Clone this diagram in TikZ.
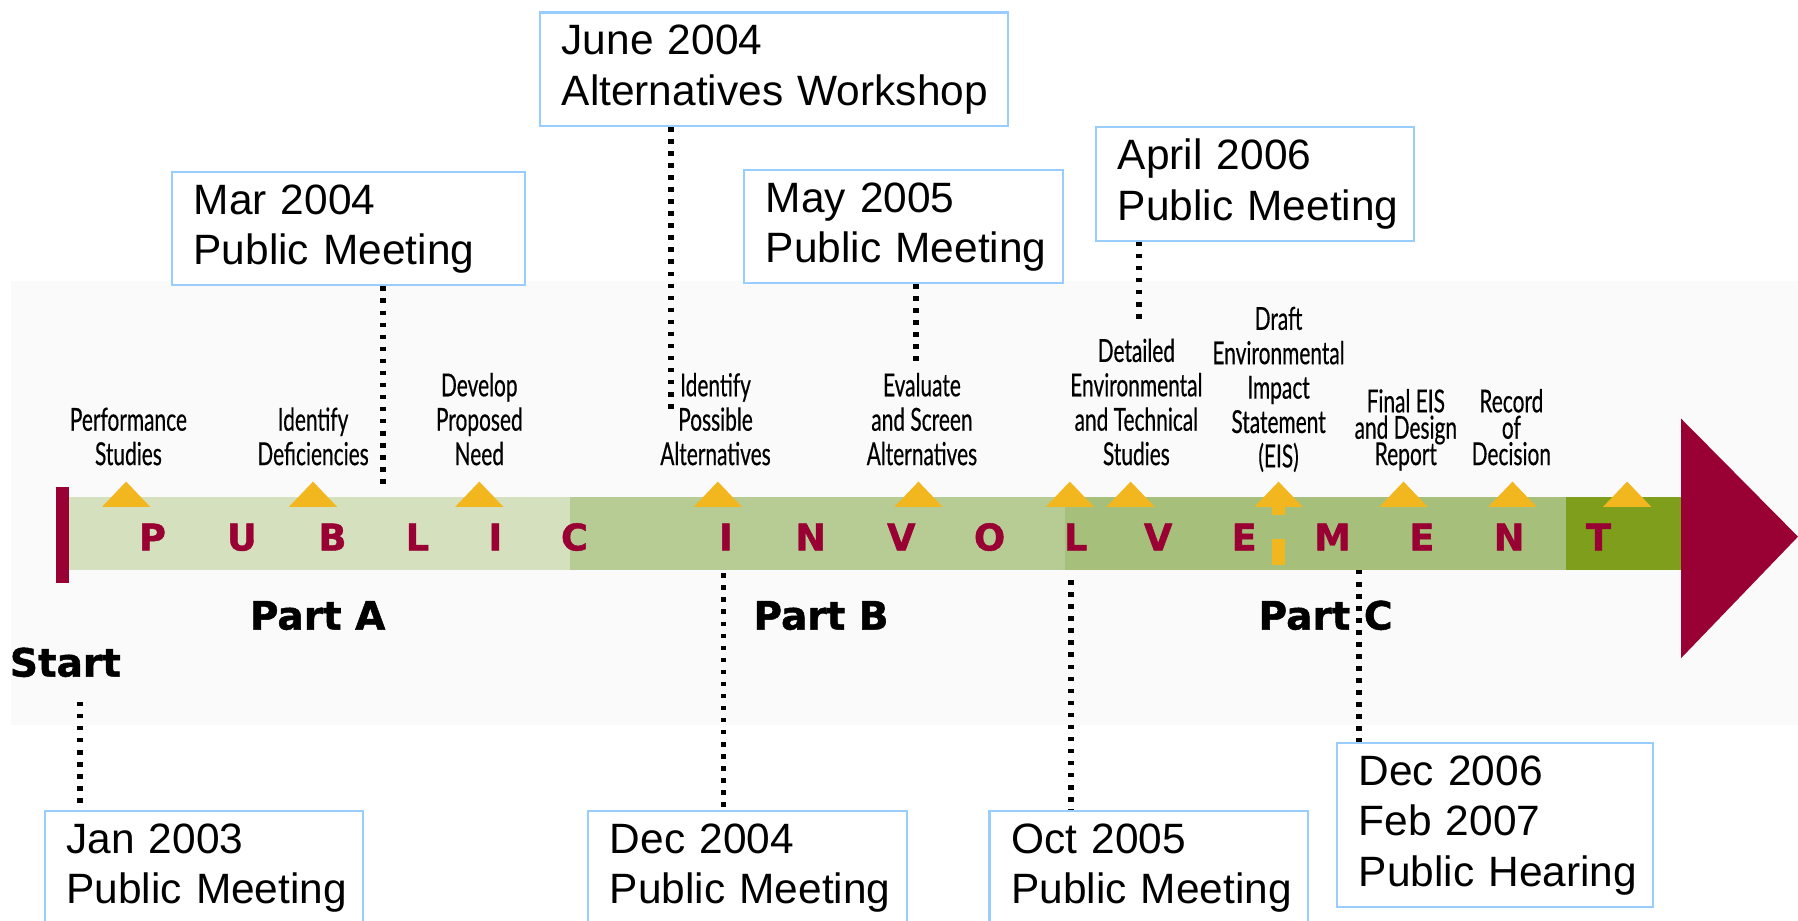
\documentclass[tikz,border=0pt]{standalone}
\usepackage{fontspec}
\setmainfont{Liberation Sans}
\newfontfamily\heavyfont[FakeBold=1.2]{DejaVu Sans Bold}
\newfontfamily\condfont[FakeStretch=0.66,FakeBold=0.4]{Lato}
\definecolor{barred}{HTML}{990033}
\definecolor{markgold}{HTML}{F2B71E}
\definecolor{segone}{HTML}{D5E0BF}
\definecolor{segtwo}{HTML}{B7CC95}
\definecolor{segthree}{HTML}{A6BF7B}
\definecolor{segfour}{HTML}{7F9F1C}
\definecolor{boxblue}{HTML}{99CCFF}
\definecolor{bggray}{HTML}{FAFAFA}
\newcommand\bxtop{\rule{0pt}{18.5pt}}
\newcommand\bxbot{\rule[-9pt]{0pt}{9pt}}
\newcommand\lbot{\rule[-4pt]{0pt}{4pt}}
\newcommand\tightlines{\lineskiplimit=-20pt\relax\lineskip=0pt\relax}
\begin{document}
\begin{tikzpicture}[x=0.5pt,y=-0.5pt,
  infobox/.style={draw=boxblue,line width=0.9pt,fill=white,align=left,anchor=north west,
    inner xsep=9.5pt,inner ysep=0pt,font=\fontsize{18.5}{22}\selectfont},
  dotline/.style={line width=2.5pt,dash pattern=on 2pt off 3.25pt},
  steplabel/.style={anchor=south,align=center,inner sep=0pt,
    font=\condfont\fontsize{13.8}{15}\selectfont},
  tightlabel/.style={anchor=south,align=center,inner sep=0pt,
    font=\condfont\fontsize{13.8}{11.5}\selectfont\tightlines},
  barletter/.style={anchor=base,inner sep=0pt,text=barred,
    font=\heavyfont\fontsize{16}{16}\selectfont},
  partlabel/.style={anchor=base,inner sep=0pt,
    font=\heavyfont\fontsize{17}{17}\selectfont}]
\useasboundingbox (0,0) rectangle (1568,803);
\clip (0,0) rectangle (1568,803);
\fill[white] (0,0) rectangle (1568,803);
\fill[bggray] (10,245) rectangle (1568,632);

% bar
\fill[segone] (57,433) rectangle (497,497);
\fill[segtwo] (497,433) rectangle (929,497);
\fill[segthree] (929,433) rectangle (1366,497);
\fill[segfour] (1366,433) rectangle (1467,497);
\fill[barred] (1466,365) -- (1568,468) -- (1466,574) -- cycle;
\fill[barred] (49,425) rectangle (60,508);

% markers
\foreach \mx in {110,273,418,626,801,933,986,1115,1224,1319,1419}
  \fill[markgold] (\mx-21,442) -- (\mx,420) -- (\mx+21,442) -- cycle;
\fill[markgold] (1109,441) rectangle (1121,449);
\fill[markgold] (1109,470) rectangle (1121,493);

% letters
\foreach \lx/\lt [count=\i] in {133/P,211/U,290/B,364/L,432/I,501/C,633/I,707/N,786/V,863/O,938/L,1010/V,1085/E,1162/M,1240/E,1316/N,1394/T}
  \node[barletter] (let\i) at (\lx,480) {\lt};

% step labels
\node[steplabel] (s1) at (112,414) {Performance\\Studies\lbot};
\node[steplabel] (s2) at (273,414) {Identify\\Deficiencies\lbot};
\node[steplabel] (s3) at (418,414) {Develop\\Proposed\\Need\lbot};
\node[steplabel] (s4) at (624,414) {Identify\\Possible\\Alternatives\lbot};
\node[steplabel] (s5) at (804,414) {Evaluate\\and Screen\\Alternatives\lbot};
\node[steplabel] (s6) at (991,414) {Detailed\\Environmental\\and Technical\\Studies\lbot};
\node[steplabel] (s7) at (1115,416) {Draft\\Environmental\\Impact\\Statement\\(EIS)\lbot};
\node[tightlabel] (s8) at (1226,414) {Final EIS\\and Design\\Report\lbot};
\node[tightlabel] (s9) at (1318,414) {Record\\of\\Decision\lbot};

% part labels
\node[partlabel] (pa) at (277,549) {Part A};
\node[partlabel] (pb) at (716,549) {Part B};
\node[partlabel] (pc) at (1156,549) {Part C};
\node[partlabel] (st) at (57,590) {Start};

% boxes
\node[infobox,text width=185pt] (b1) at (470,10) {\bxtop June 2004\\Alternatives~Workshop\bxbot};
\node[infobox,text width=135pt] (b2) at (149,149) {\bxtop Mar 2004\\Public~Meeting\bxbot};
\node[infobox,text width=120pt] (b3) at (648,147) {\bxtop May 2005\\Public~Meeting\bxbot};
\node[infobox,text width=119.5pt] (b4) at (955,110) {\bxtop April 2006\\Public~Meeting\bxbot};
\node[infobox,text width=120pt] (b5) at (38,706) {\bxtop Jan 2003\\Public~Meeting\bxbot};
\node[infobox,text width=120pt] (b6) at (512,706) {\bxtop Dec 2004\\Public~Meeting\bxbot};
\node[infobox,text width=120pt] (b7) at (862,706) {\bxtop Oct 2005\\Public~Meeting\bxbot};
\node[infobox,text width=119pt] (b8) at (1165,647) {\bxtop Dec 2006\\Feb 2007\\Public~Hearing\bxbot};

% dotted connectors
\coordinate (e1) at (585,359);
\coordinate (e2) at (334,425);
\coordinate (e3) at (799,317);
\coordinate (e4) at (993,283);
\coordinate (e5) at (70,612);
\coordinate (e6) at (631,500);
\coordinate (e7) at (934,506);
\coordinate (e8) at (1185,497);
\draw[dotline] (e1 |- b1.south) -- (e1);
\draw[dotline] (e2 |- b2.south) -- (e2);
\draw[dotline] (e3 |- b3.south) -- (e3);
\draw[dotline] (e4 |- b4.south) -- (e4);
\draw[dotline] (e5) -- (e5 |- b5.north);
\draw[dotline] (e6) -- (e6 |- b6.north);
\draw[dotline] (e7) -- (e7 |- b7.north);
\draw[dotline] (e8) -- (e8 |- b8.north);
\end{tikzpicture}
\end{document}
